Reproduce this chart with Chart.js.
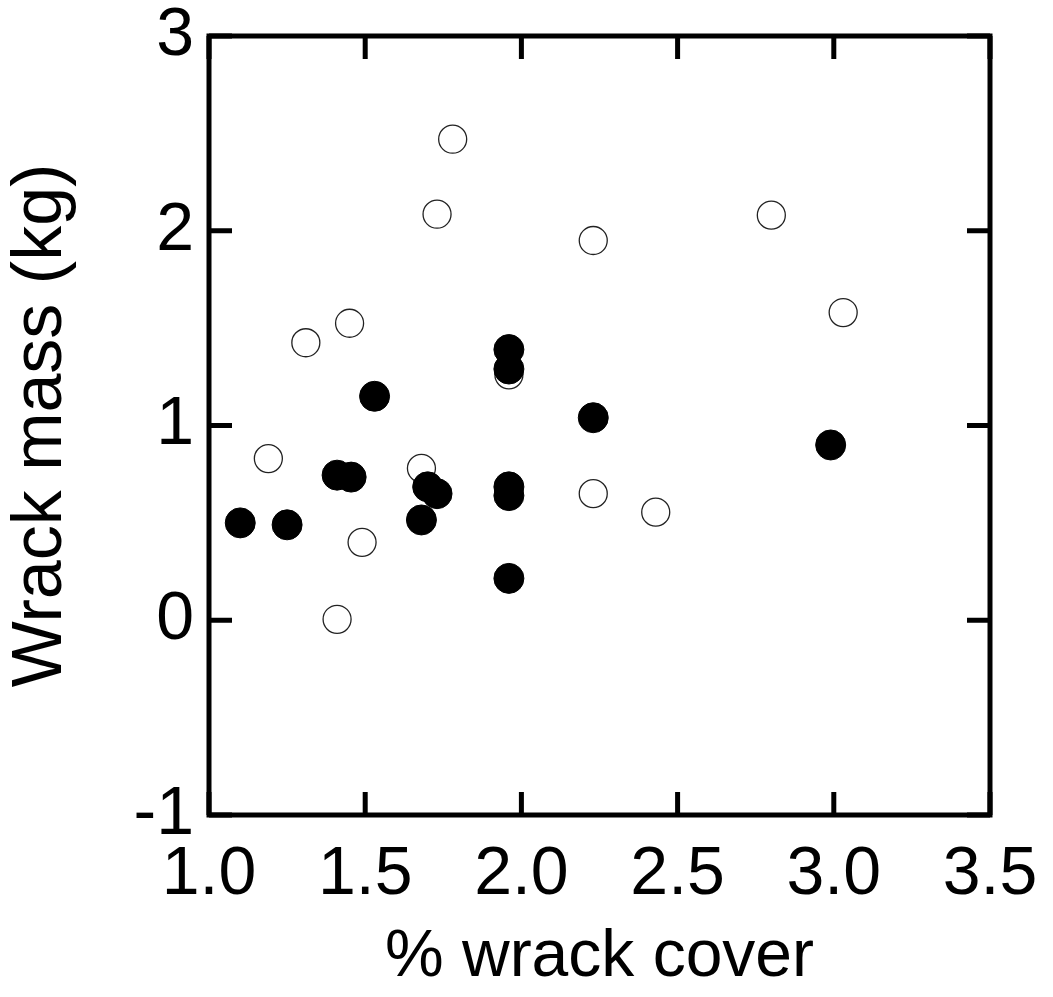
<!DOCTYPE html>
<html>
<head>
<meta charset="utf-8">
<script src="https://cdn.jsdelivr.net/npm/chart.js@4"></script>
<style>
  html, body { margin: 0; padding: 0; background: #fff; }
  #wrap { width: 1053px; height: 997px; }
</style>
</head>
<body>
<div id="wrap"><canvas id="c" width="1053" height="997"></canvas></div>
<script>
// Data
const filledX = [1.96, 1.96, 1.53, 2.23, 2.99, 1.41, 1.455, 1.70, 1.73, 1.96, 1.96, 1.68, 1.10, 1.25, 1.96];
const filledY = [1.39, 1.29, 1.15, 1.04, 0.90, 0.745, 0.735, 0.685, 0.65, 0.685, 0.64, 0.515, 0.50, 0.49, 0.215];
const openX = [1.78, 1.73, 2.23, 2.80, 3.03, 1.45, 1.31, 1.96, 1.19, 1.68, 2.23, 2.43, 1.49, 1.41];
const openY = [2.47, 2.085, 1.95, 2.08, 1.58, 1.525, 1.425, 1.26, 0.83, 0.78, 0.65, 0.555, 0.40, 0.005];
const xTicks = [1.0, 1.5, 2.0, 2.5, 3.0, 3.5];
const yTicks = [-1, 0, 1, 2, 3];
const xTitle = '% wrack cover';
const yTitle = 'Wrack mass (kg)';

const toPts = (xs, ys) => xs.map((x, i) => ({x: x, y: ys[i]}));

const framePlugin = {
  id: 'frame',
  beforeDatasetsDraw(chart) {
    const {ctx, chartArea: a, scales} = chart;
    const tl = 23;
    ctx.save();
    ctx.strokeStyle = '#000';
    ctx.lineWidth = 5;
    ctx.lineJoin = 'miter';
    ctx.lineCap = 'butt';
    ctx.strokeRect(a.left, a.top, a.right - a.left, a.bottom - a.top);
    ctx.beginPath();
    xTicks.forEach(v => {
      const px = scales.x.getPixelForValue(v);
      ctx.moveTo(px, a.bottom); ctx.lineTo(px, a.bottom - tl);
      ctx.moveTo(px, a.top); ctx.lineTo(px, a.top + tl);
    });
    yTicks.forEach(v => {
      const py = scales.y.getPixelForValue(v);
      ctx.moveTo(a.left, py); ctx.lineTo(a.left + tl, py);
      ctx.moveTo(a.right, py); ctx.lineTo(a.right - tl, py);
    });
    ctx.stroke();
    ctx.restore();
  }
};

const FONT = "'Liberation Sans', Arial, sans-serif";

new Chart(document.getElementById('c'), {
  type: 'scatter',
  data: {
    datasets: [
      {
        label: 'filled',
        data: toPts(filledX, filledY),
        pointRadius: 15,
        pointBackgroundColor: '#000',
        pointBorderColor: '#000',
        pointBorderWidth: 1
      },
      {
        label: 'open',
        data: toPts(openX, openY),
        pointRadius: 14,
        pointBackgroundColor: 'rgba(255,255,255,0)',
        pointBorderColor: '#222',
        pointBorderWidth: 1.3
      }
    ]
  },
  options: {
    responsive: false,
    animation: false,
    devicePixelRatio: 1,
    layout: { padding: { top: 36, right: 63, bottom: 0, left: 0 } },
    plugins: { legend: { display: false }, tooltip: { enabled: false } },
    scales: {
      x: {
        type: 'linear',
        min: 1.0, max: 3.5,
        afterBuildTicks: s => { s.ticks = xTicks.map(v => ({value: v})); },
        afterFit: s => { s.height = 182; s.paddingLeft = 0; s.paddingRight = 0; s.paddingTop = 0; s.paddingBottom = 0; },
        grid: { display: false, drawTicks: false },
        border: { display: false },
        ticks: {
          color: '#000',
          padding: 26,
          maxRotation: 0,
          font: { family: FONT, size: 68, lineHeight: 1.0 },
          callback: v => Number(v).toFixed(1)
        },
        title: {
          display: true, text: xTitle, color: '#000',
          padding: 0,
          font: { family: FONT, size: 66 }
        }
      },
      y: {
        type: 'linear',
        min: -1, max: 3,
        afterBuildTicks: s => { s.ticks = yTicks.map(v => ({value: v})); },
        afterFit: s => { s.width = 209; s.paddingTop = 0; s.paddingBottom = 0; s.paddingLeft = 0; s.paddingRight = 0; },
        grid: { display: false, drawTicks: false },
        border: { display: false },
        ticks: {
          color: '#000',
          padding: 15,
          font: { family: FONT, size: 68, lineHeight: 1.0 },
          callback: v => String(v)
        },
        title: {
          display: true, text: yTitle, color: '#000',
          padding: 0,
          font: { family: FONT, size: 70 }
        }
      }
    }
  },
  plugins: [framePlugin]
});
</script>
</body>
</html>
